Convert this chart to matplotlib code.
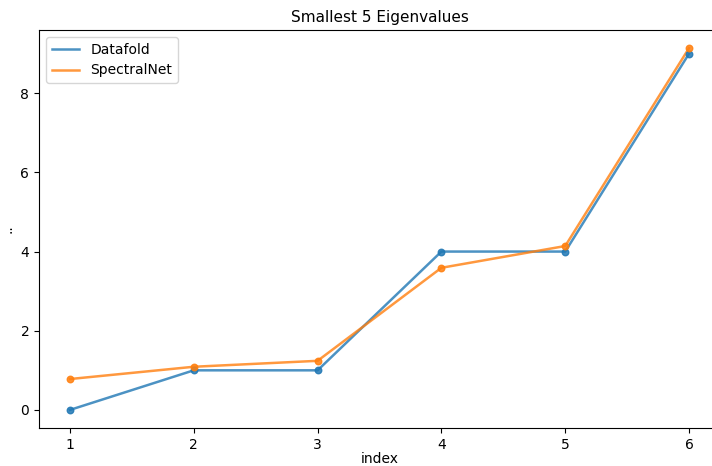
import matplotlib
matplotlib.use("Agg")
import matplotlib.pyplot as plt

index = [1, 2, 3, 4, 5, 6]
datafold = [0.0, 1.0, 1.0, 4.0, 4.0, 9.0]
spectralnet = [0.78, 1.09, 1.24, 3.59, 4.14, 9.14]

plt.rcParams['font.size'] = 10

fig = plt.figure(figsize=(7.12, 4.66), dpi=100)
ax = fig.add_axes([39 / 712, 38 / 466, 681 / 712, 398 / 466])

# lines carry the legend, dots drawn on top without labels
for y, name, c in [(datafold, 'Datafold', 'tab:blue'), (spectralnet, 'SpectralNet', 'tab:orange')]:
    ax.plot(index, y, color=c, lw=1.8, alpha=0.8, label=name)
    ax.scatter(index, y, color=c, s=22, alpha=0.85, zorder=3)

ax.set_title('Smallest 5 Eigenvalues', fontsize=11)
ax.set_xlabel('index', labelpad=0)
ax.set_ylabel('..')
ax.legend(loc='upper left')

fig.savefig('out.png', dpi=100)
